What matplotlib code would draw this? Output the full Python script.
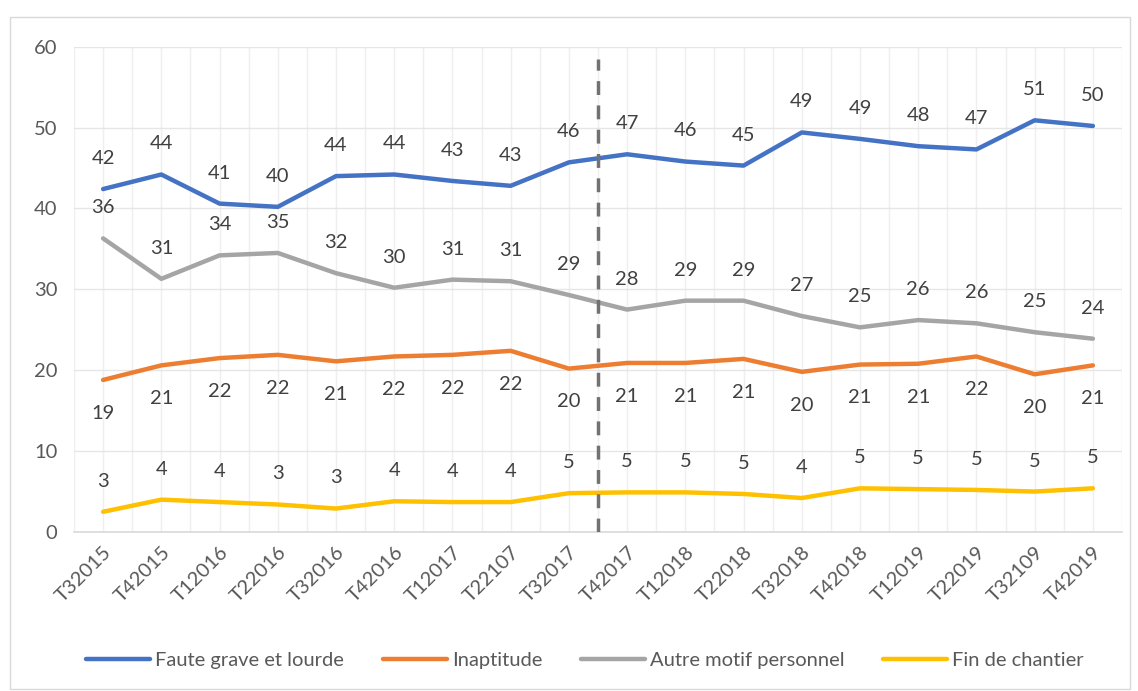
import matplotlib.pyplot as plt
from matplotlib.patches import Rectangle

plt.rcParams['font.family'] = ['Lato', 'DejaVu Sans']

# trimestres
periodes = ["T32015", "T42015", "T12016", "T22016", "T32016", "T42016", "T12017", "T22107", "T32017",
            "T42017", "T12018", "T22018", "T32018", "T42018", "T12019", "T22019", "T32109", "T42019"]

faute = [42.4, 44.2, 40.6, 40.2, 44.0, 44.2, 43.4, 42.8, 45.7, 46.7, 45.8, 45.3, 49.4, 48.6, 47.7, 47.3, 50.9, 50.2]
inaptitude = [18.8, 20.6, 21.5, 21.9, 21.1, 21.7, 21.9, 22.4, 20.2, 20.9, 20.9, 21.4, 19.8, 20.7, 20.8, 21.7, 19.5, 20.6]
autre = [36.3, 31.3, 34.2, 34.5, 32.0, 30.2, 31.2, 31.0, 29.3, 27.5, 28.6, 28.6, 26.7, 25.3, 26.2, 25.8, 24.7, 23.9]
chantier = [2.5, 4.0, 3.7, 3.4, 2.9, 3.8, 3.7, 3.7, 4.8, 4.9, 4.9, 4.7, 4.2, 5.4, 5.3, 5.2, 5.0, 5.4]

series = [
    ("Faute grave et lourde", faute, "#4472C4", 22),
    ("Inaptitude", inaptitude, "#ED7D31", -24),
    ("Autre motif personnel", autre, "#A5A5A5", 22),
    ("Fin de chantier", chantier, "#FFC000", 22),
]

fig = plt.figure(figsize=(11.38, 6.91), dpi=100)
fig.patches.append(Rectangle((10 / 1138, 2 / 691), 1120 / 1138, 672 / 691, transform=fig.transFigure,
                             fill=False, edgecolor="#D9D9D9", linewidth=1))
ax = fig.add_axes([74 / 1138, 1 - 532 / 691, 1048 / 1138, (532 - 46.7) / 691])

x = list(range(len(periodes)))
for nom, vals, coul, dy in series:
    ax.plot(x, vals, color=coul, linewidth=3.2, label=nom, solid_capstyle="round", zorder=3)
    for xi, v in zip(x, vals):
        # arrondi comme Excel (0.5 vers le haut)
        ax.annotate(str(int(v + 0.5)), (xi, v), xytext=(0, dy), textcoords="offset points",
                    ha="center", va="center", fontsize=14.5, color="#404040")

# rupture de serie
ax.plot([8.5, 8.5], [0, 58.5], color="#767171", linewidth=2.5, linestyle=(0, (4, 3)), zorder=4)

ax.set_xlim(-0.5, len(periodes) - 0.5)
ax.set_ylim(0, 60)
ax.set_yticks(range(0, 61, 10))
ax.set_xticks(x)
ax.set_xticks([i + 0.5 for i in range(-1, len(periodes))], minor=True)
ax.set_xticklabels(periodes, rotation=45, ha="right", rotation_mode="anchor", fontsize=14.5, color="#595959")
ax.tick_params(axis="y", labelsize=14.5, labelcolor="#595959", length=0, pad=12)
ax.tick_params(axis="x", which="both", length=0, pad=8)
ax.grid(axis="y", color="#E6E6E6", linewidth=1)
ax.grid(axis="x", which="both", color="#EFEFEF", linewidth=1)
for s in ["top", "right", "left"]:
    ax.spines[s].set_visible(False)
ax.spines["bottom"].set_color("#D9D9D9")
ax.spines["bottom"].set_linewidth(1.2)

fig.legend(loc="center", bbox_to_anchor=(585 / 1138, 1 - 660 / 691), ncol=4, frameon=False,
           fontsize=14.5, handlelength=3.2, handletextpad=0.25, columnspacing=1.9, labelcolor="#595959")

fig.savefig("out.png", dpi=100)
